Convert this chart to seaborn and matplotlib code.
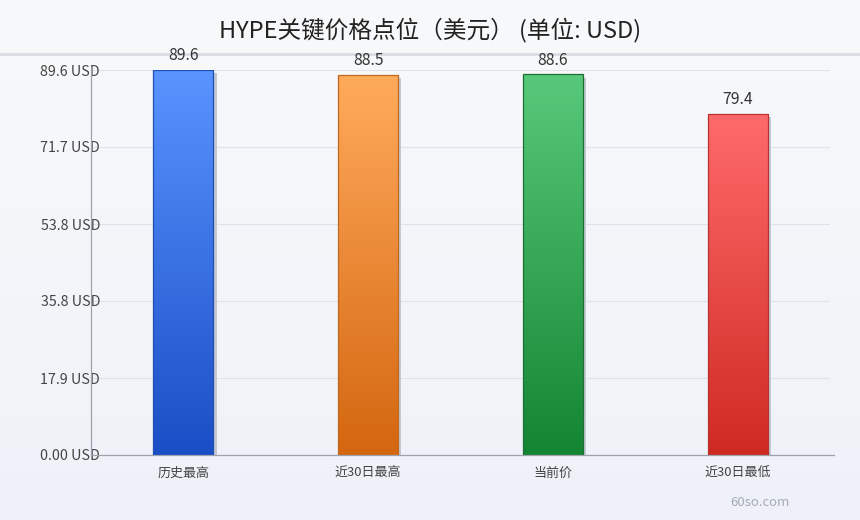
import numpy as np
import pandas as pd
import matplotlib
matplotlib.use("Agg")
import matplotlib.pyplot as plt
import matplotlib.patheffects as pe
from matplotlib.colors import LinearSegmentedColormap
from matplotlib.lines import Line2D
from matplotlib.patches import Rectangle
import seaborn as sns

# ==============================
# Data
# ==============================
categories = ["历史最高", "近30日最高", "当前价", "近30日最低"]
prices = [89.6, 88.5, 88.6, 79.4]
value_labels = ["89.6", "88.5", "88.6", "79.4"]
ytick_values = [0, 17.92, 35.84, 53.76, 71.68, 89.6]
ytick_labels = ["0.00 USD", "17.9 USD", "35.8 USD", "53.8 USD", "71.7 USD", "89.6 USD"]
top_colors = ["#5a94ff", "#ffab5c", "#58c97a", "#ff6b6b"]
bottom_colors = ["#1a4ec6", "#d46610", "#138532", "#cf2a22"]
edge_colors = ["#1f4fb0", "#c0691e", "#1f6e34", "#b83232"]
title = "HYPE关键价格点位（美元） (单位: USD)"

df = pd.DataFrame({"category": categories, "price": prices})

# ==============================
# Style
# ==============================
sns.set_theme(style="white")
plt.rcParams["font.family"] = ["Noto Sans CJK SC", "DejaVu Sans"]

fig = plt.figure(figsize=(8.6, 5.2), dpi=100)

# page background gradient
bg = fig.add_axes([0, 0, 1, 1], zorder=-10)
bg_cmap = LinearSegmentedColormap.from_list("bg", ["#f8f9fb", "#eef2f8"])
bg.imshow(np.linspace(0, 1, 256).reshape(-1, 1), aspect="auto", cmap=bg_cmap,
          extent=(0, 1, 0, 1))
bg.set_axis_off()

# header separator (behind the chart)
fig.add_artist(Line2D([0, 1], [1 - 54 / 520, 1 - 54 / 520], color="#dcdee5",
                      lw=2.2, transform=fig.transFigure, zorder=-5))

ax = fig.add_axes([91 / 860, 1 - 455 / 520, (830 - 91) / 860, (455 - 70) / 520])
ax.set_facecolor("none")

sns.barplot(data=df, x="category", y="price", hue="category", palette=top_colors,
            width=0.325, saturation=1, legend=False, ax=ax, zorder=2)

ax.set_xlim(-0.5, 3.5)
ax.set_ylim(0, 89.6)

# gradient fill, shadow and outline for each bar
for i, container in enumerate(ax.containers):
    for patch in container:
        x0, y0 = patch.get_x(), patch.get_y()
        w, h = patch.get_width(), patch.get_height()
        patch.set_edgecolor("none")
        patch.set_path_effects([
            pe.SimplePatchShadow(offset=(2.4, -2.4), shadow_rgbFace="#c4c8d2", alpha=1),
            pe.Normal(),
        ])
        cmap = LinearSegmentedColormap.from_list(f"g{i}", [bottom_colors[i], top_colors[i]])
        im = ax.imshow(np.linspace(0, 1, 256).reshape(-1, 1), origin="lower",
                       aspect="auto", cmap=cmap, extent=(x0, x0 + w, y0, y0 + h),
                       zorder=2.5)
        im.set_clip_path(patch)
        ax.add_patch(Rectangle((x0, y0), w, h, fill=False, edgecolor=edge_colors[i],
                               lw=0.9, zorder=3))
        ax.annotate(value_labels[i], (x0 + w / 2, y0 + h), xytext=(0, 4),
                    textcoords="offset points", ha="center", va="bottom",
                    fontsize=11.3, color="#333333", zorder=5)

ax.set_xlim(-0.5, 3.5)
ax.set_ylim(0, 89.6)

# axes, grid, ticks
ax.set_yticks(ytick_values)
ax.set_yticklabels(ytick_labels)
ax.yaxis.grid(True, color="#dfe2e9", lw=0.8, zorder=0)
ax.set_axisbelow(True)
ax.tick_params(axis="y", length=0, pad=-6.5, labelsize=10.3, labelcolor="#444444")
ax.tick_params(axis="x", length=0, pad=8.5, labelsize=9.4, labelcolor="#444444")
ax.set_xlabel("")
ax.set_ylabel("")
for side in ["top", "right"]:
    ax.spines[side].set_visible(False)
for side in ["left", "bottom"]:
    ax.spines[side].set_color("#9ea2ad")
    ax.spines[side].set_linewidth(0.9)
ax.spines["left"].set_bounds(0, 90.3)
ax.spines["bottom"].set_bounds(-0.5, 3.52)

fig.text(0.5, 1 - 30 / 520, title, ha="center", va="center", fontsize=17,
         color="#222222")
fig.text(760 / 860, 1 - 503 / 520, "60so.com", ha="center", va="center",
         fontsize=9.5, color="#a6aab5")

fig.savefig("out.png", dpi=100)
